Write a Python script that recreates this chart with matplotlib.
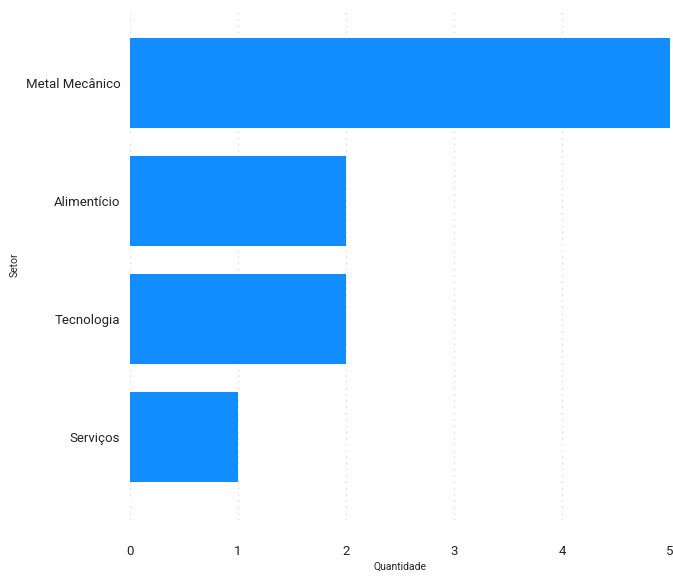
import matplotlib.pyplot as plt

setores = ["Metal Mecânico", "Alimentício", "Tecnologia", "Serviços"]
quantidade = [5, 2, 2, 1]
x_ticks = [0, 1, 2, 3, 4, 5]

plt.rcParams['font.family'] = ['Roboto', 'DejaVu Sans']

fig = plt.figure(figsize=(6.73, 5.79), dpi=100)
ax = fig.add_axes([130 / 673, 1 - 520 / 579, 540 / 673, 510 / 579])

ax.barh(range(len(setores)), quantidade, height=90 / 118, color="#118DFF", zorder=3)

ax.set_xlim(0, 5)
ax.set_ylim(3 + 83 / 118, -73 / 118)
ax.set_yticks(range(len(setores)))
ax.set_yticklabels(setores, fontsize=9.5, color="#252423")
ax.set_xticks(x_ticks)
ax.set_xticklabels([str(t) for t in x_ticks], fontsize=9.5, color="#252423")
ax.tick_params(length=0)
ax.tick_params(axis='x', pad=18)
ax.tick_params(axis='y', pad=7)

for s in ax.spines.values():
    s.set_visible(False)
ax.grid(axis='x', color="#D6D4D2", linestyle=(0, (1, 4)), linewidth=0.9, zorder=0)

ax.set_xlabel("Quantidade", fontsize=7.5, color="#252423", labelpad=3)
ax.set_ylabel("Setor", fontsize=7.5, color="#252423", labelpad=0)
ax.yaxis.set_label_coords(-110 / 540, 0.5)

fig.savefig("out.png", dpi=100)
